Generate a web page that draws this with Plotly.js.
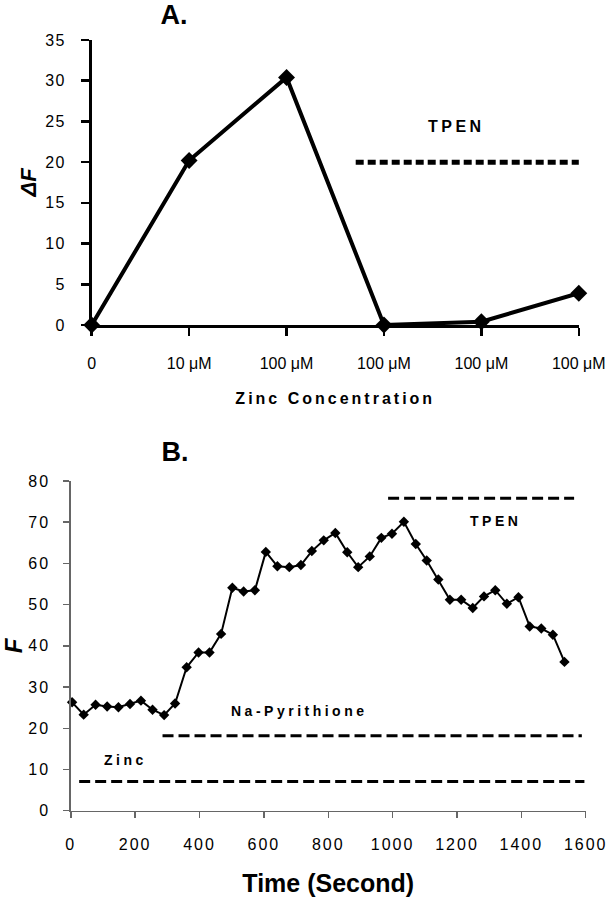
<!DOCTYPE html>
<html>
<head>
<meta charset="utf-8">
<script src="https://cdn.plot.ly/plotly-3.0.1.min.js"></script>
<style>
  html, body { margin: 0; padding: 0; background: #fff; }
  #chart { width: 607px; height: 899px; }
  g.ytick text { letter-spacing: 1.5px; }
  g.x2tick text, g.y2tick text { letter-spacing: 2px; }
  .annotation-text { letter-spacing: 3.5px; }
  g.annotation[data-index="0"] .annotation-text,
  g.annotation[data-index="1"] .annotation-text { letter-spacing: 0; }
  .xtitle { letter-spacing: 3px; }
</style>
</head>
<body>
<div id="chart"></div>
<script>
// ---------- Panel A data ----------
const catIndex = [0, 1, 2, 3, 4, 5];
const catLabels = ['0', '10 μM', '100 μM', '100 μM', '100 μM', '100 μM'];
const deltaF = [0, 20.2, 30.4, 0, 0.4, 3.9];
const tpenA_x = [2.71, 5.02];
const tpenA_y = [20, 20];

// ---------- Panel B data ----------
const timeS = [4, 40, 77, 113, 148, 184, 218, 254, 290, 324, 360, 397, 431, 467, 502, 537, 572,
  606, 642, 679, 715, 749, 786, 822, 859, 893, 929, 965, 998, 1035, 1072, 1106, 1142, 1178,
  1213, 1249, 1284, 1319, 1355, 1391, 1426, 1462, 1498, 1534];
const fluor = [26.3, 23.3, 25.7, 25.3, 25.1, 25.9, 26.7, 24.5, 23.2, 26.0, 34.8, 38.4, 38.4, 42.9,
  54.1, 53.2, 53.5, 62.8, 59.3, 59.1, 59.6, 63.0, 65.6, 67.4, 62.7, 59.1, 61.7, 66.2, 67.2, 70.1,
  64.7, 60.7, 56.1, 51.2, 51.2, 49.2, 52.0, 53.5, 50.2, 51.8, 44.7, 44.2, 42.7, 36.1];
const tpenB_x = [986, 1564];
const tpenB_y = [75.8, 75.8];
const pyr_x = [285, 1588];
const pyr_y = [18.2, 18.2];
const zinc_x = [26, 1596];
const zinc_y = [7.1, 7.1];

const FONT = 'Liberation Sans, Arial, sans-serif';
const W = 607, H = 899;

const traces = [
  { x: catIndex, y: deltaF, xaxis: 'x', yaxis: 'y', mode: 'lines+markers', cliponaxis: false,
    line: { color: '#000', width: 4 }, marker: { symbol: 'diamond', size: 13, color: '#000' } },
  { x: tpenA_x, y: tpenA_y, xaxis: 'x', yaxis: 'y', mode: 'lines', cliponaxis: false,
    line: { color: '#000', width: 5, dash: '8px,4px' } },
  { x: timeS, y: fluor, xaxis: 'x2', yaxis: 'y2', mode: 'lines+markers', cliponaxis: false,
    line: { color: '#000', width: 2 }, marker: { symbol: 'diamond', size: 8, color: '#000' } },
  { x: tpenB_x, y: tpenB_y, xaxis: 'x2', yaxis: 'y2', mode: 'lines', cliponaxis: false,
    line: { color: '#000', width: 3, dash: '11px,5px' } },
  { x: pyr_x, y: pyr_y, xaxis: 'x2', yaxis: 'y2', mode: 'lines', cliponaxis: false,
    line: { color: '#000', width: 3, dash: '11px,5px' } },
  { x: zinc_x, y: zinc_y, xaxis: 'x2', yaxis: 'y2', mode: 'lines', cliponaxis: false,
    line: { color: '#000', width: 3, dash: '11px,5px' } }
];

const layout = {
  width: W, height: H,
  margin: { l: 0, r: 0, t: 0, b: 0 },
  paper_bgcolor: '#fff', plot_bgcolor: 'rgba(0,0,0,0)',
  showlegend: false,
  font: { family: FONT, color: '#000' },
  xaxis: {
    domain: [91.7 / W, 578.8 / W], range: [0, 5], anchor: 'y',
    tickmode: 'array', tickvals: catIndex, ticktext: catLabels,
    showline: true, linecolor: '#000', linewidth: 2.5,
    ticks: 'outside', ticklen: 8, tickwidth: 2.5, tickcolor: '#000',
    ticklabelstandoff: 14, ticklabeloverflow: 'allow',
    showgrid: false, zeroline: false, automargin: false,
    tickfont: { size: 16, family: FONT, color: '#000' },
    title: { text: 'Zinc Concentration', standoff: 22,
      font: { size: 16, family: FONT, weight: 'bold', color: '#000' } }
  },
  yaxis: {
    domain: [1 - 325 / H, 1 - 40 / H], range: [0, 35], anchor: 'x',
    tickmode: 'linear', tick0: 0, dtick: 5,
    showline: true, linecolor: '#000', linewidth: 2.5,
    ticks: 'outside', ticklen: 8, tickwidth: 2.5, tickcolor: '#000',
    ticklabelstandoff: 12, ticklabeloverflow: 'allow',
    showgrid: false, zeroline: false, automargin: false,
    tickfont: { size: 16, family: FONT, color: '#000' },
    title: { text: 'ΔF', standoff: 3,
      font: { size: 22, family: FONT, weight: 'bold', style: 'italic', color: '#000' } }
  },
  xaxis2: {
    domain: [70.8 / W, 585.7 / W], range: [0, 1600], anchor: 'y2',
    tickmode: 'linear', tick0: 0, dtick: 200,
    showline: true, linecolor: '#666', linewidth: 1.5,
    ticks: 'outside', ticklen: 6, tickwidth: 1.5, tickcolor: '#666',
    ticklabelstandoff: 13, ticklabeloverflow: 'allow',
    showgrid: false, zeroline: false, automargin: false,
    tickfont: { size: 16, family: FONT, color: '#000' },
    title: { text: 'Time (Second)', standoff: 22,
      font: { size: 25, family: FONT, weight: 'bold', color: '#000' } }
  },
  yaxis2: {
    domain: [1 - 810.7 / H, 1 - 481 / H], range: [0, 80], anchor: 'x2',
    tickmode: 'linear', tick0: 0, dtick: 10,
    showline: true, linecolor: '#666', linewidth: 1.5,
    ticks: 'outside', ticklen: 6, tickwidth: 1.5, tickcolor: '#666',
    ticklabelstandoff: 10, ticklabeloverflow: 'allow',
    showgrid: false, zeroline: false, automargin: false,
    tickfont: { size: 16, family: FONT, color: '#000' },
    title: { text: 'F', standoff: 14,
      font: { size: 24, family: FONT, weight: 'bold', style: 'italic', color: '#000' } }
  },
  annotations: [
    { text: 'A.', xref: 'paper', yref: 'paper', x: 174 / W, y: 1 - 15 / H, showarrow: false,
      xanchor: 'center', yanchor: 'middle', font: { size: 27, family: FONT, weight: 'bold' } },
    { text: 'B.', xref: 'paper', yref: 'paper', x: 175 / W, y: 1 - 452 / H, showarrow: false,
      xanchor: 'center', yanchor: 'middle', font: { size: 27, family: FONT, weight: 'bold' } },
    { text: 'TPEN', xref: 'x', yref: 'y', x: 3.74, y: 24.4, showarrow: false,
      font: { size: 16, family: FONT, weight: 'bold' } },
    { text: 'TPEN', xref: 'x2', yref: 'y2', x: 1320, y: 70.3, showarrow: false,
      font: { size: 14, family: FONT, weight: 'bold' } },
    { text: 'Na-Pyrithione', xref: 'x2', yref: 'y2', x: 712, y: 24.1, showarrow: false,
      font: { size: 14, family: FONT, weight: 'bold' } },
    { text: 'Zinc', xref: 'x2', yref: 'y2', x: 171, y: 12.2, showarrow: false,
      font: { size: 14, family: FONT, weight: 'bold' } }
  ]
};

Plotly.newPlot('chart', traces, layout, { staticPlot: true, displayModeBar: false });
</script>
</body>
</html>
